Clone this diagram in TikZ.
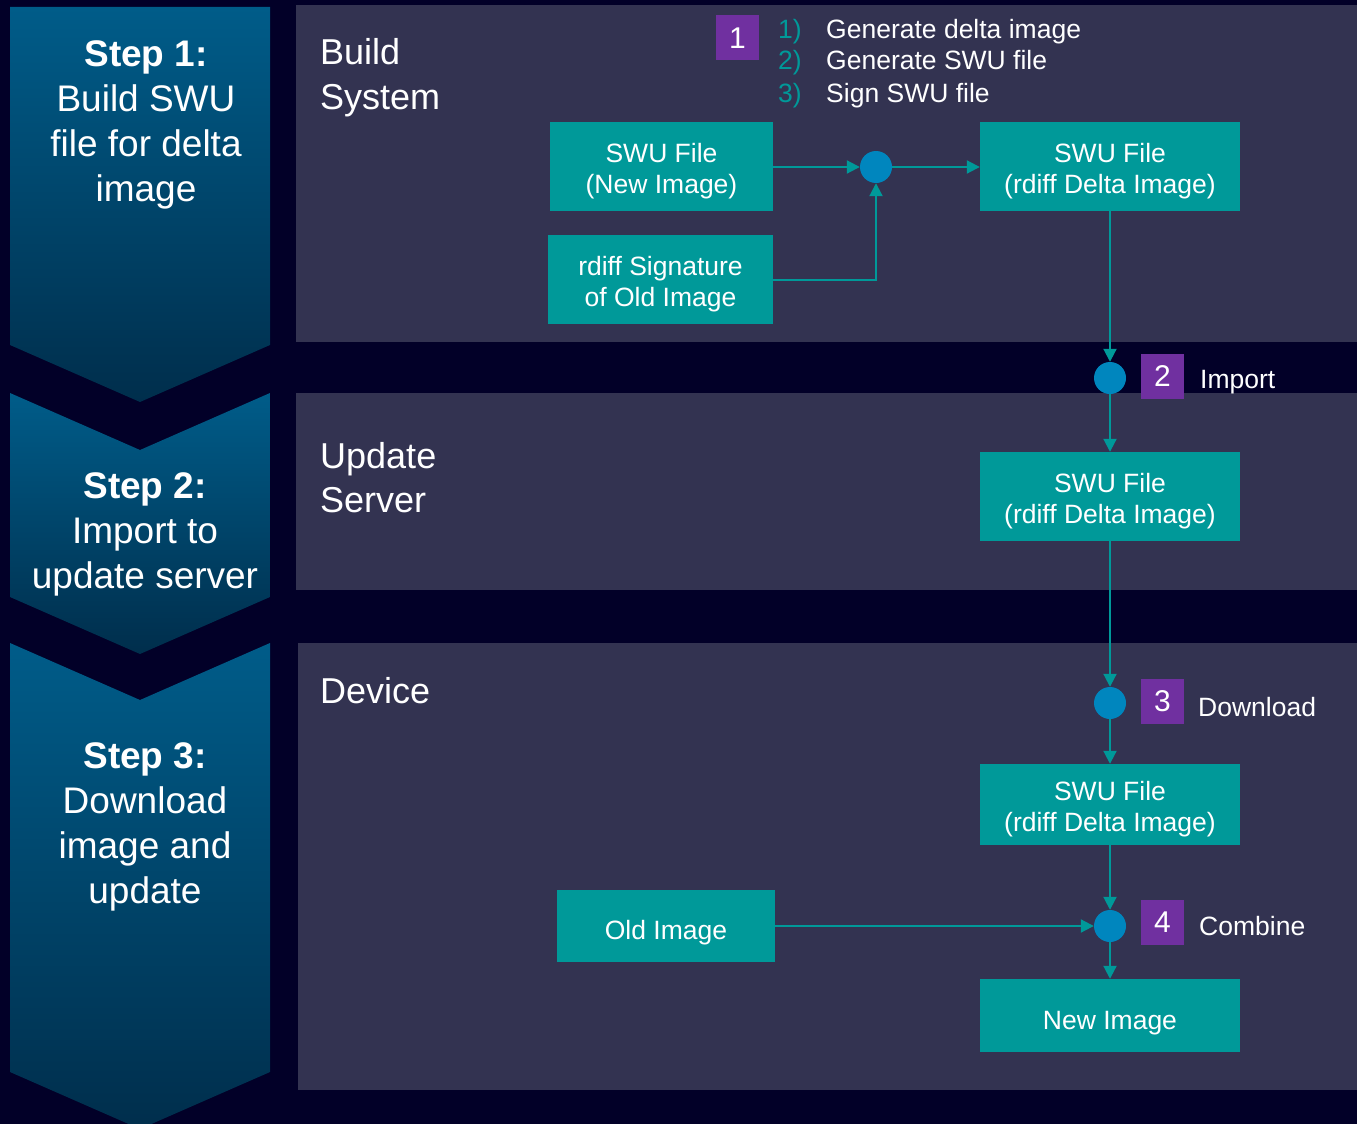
\documentclass[tikz,border=0pt]{standalone}
\usepackage{fontspec}
\setmainfont{Liberation Sans}
\usetikzlibrary{arrows.meta}
\definecolor{bgnavy}{RGB}{2,0,40}
\definecolor{panel}{RGB}{51,51,81}
\definecolor{tealc}{RGB}{0,153,153}
\definecolor{dotblue}{RGB}{0,134,190}
\definecolor{purp}{RGB}{112,48,160}
\definecolor{chevtop}{RGB}{0,92,137}
\definecolor{chevbot}{RGB}{0,46,76}
\newcommand{\bxt}[2]{\raisebox{#1}[0pt][0pt]{\begin{tabular}{@{}c@{}}#2\end{tabular}}}
\tikzset{
  filebox/.style={rectangle, fill=tealc, inner sep=0pt, text=white,
    font=\fontsize{26.5}{31}\selectfont},
  dot/.style={circle, fill=dotblue, inner sep=0pt, minimum size=32pt},
  numbox/.style={rectangle, fill=purp, inner sep=0pt, minimum width=43pt, minimum height=45pt,
    text=white, font=\fontsize{30}{30}\selectfont},
  flow/.style={draw=tealc, line width=2pt, -{Triangle[length=13pt,width=13pt]}},
  paneltitle/.style={anchor=base west, text=white, inner sep=0pt, font=\fontsize{36}{36}\selectfont},
  smalltext/.style={anchor=base west, text=white, inner sep=0pt, font=\fontsize{26.5}{26.5}\selectfont},
  steptext/.style={text=white, align=center, inner sep=0pt, font=\fontsize{37}{45}\selectfont},
  chevron/.style={top color=chevtop, bottom color=chevbot, draw=none}
}
\begin{document}
\begin{tikzpicture}[x=1pt,y=-1pt]
\useasboundingbox (0,0) rectangle (1357,1124);
\fill[bgnavy] (0,0) rectangle (1357,1124);
% panels
\fill[panel] (296,5) rectangle (1357,342);
\fill[panel] (296,393) rectangle (1357,590);
\fill[panel] (298,643) rectangle (1357,1090);
% chevrons
\shade[chevron] (10,7) -- (270,7) -- (270,345) -- (140,402) -- (10,345) -- cycle;
\shade[chevron] (10,393) -- (140,450) -- (270,393) -- (270,597) -- (140,654) -- (10,597) -- cycle;
\shade[chevron] (10,643) -- (140,700) -- (270,643) -- (270,1072) -- (140,1129) -- (10,1072) -- cycle;
\node[steptext] (s1) at (146,125) {\bfseries Step 1:\\Build SWU\\file for delta\\image};
\node[steptext] (s2) at (145,534) {\bfseries Step 2:\\Import to\\update server};
\node[steptext] (s3) at (145,827) {\bfseries Step 3:\\Download\\image and\\update};
% panel titles
\node[paneltitle] (t1) at (320,64) {Build};
\node[paneltitle] (t2) at (320,109) {System};
\node[paneltitle] (t3) at (320,468) {Update};
\node[paneltitle] (t4) at (320,512) {Server};
\node[paneltitle] (t5) at (320,703) {Device};
% step list
\node[numbox] (n1) at (737.5,38) {1};
\node[smalltext, text=tealc] (l1n) at (778,39) {1)};
\node[smalltext, text=tealc] (l2n) at (778,70) {2)};
\node[smalltext, text=tealc] (l3n) at (778,102) {3)};
\node[smalltext] (l1) at (826,39) {Generate delta image};
\node[smalltext] (l2) at (826,70) {Generate SWU file};
\node[smalltext] (l3) at (826,102) {Sign SWU file};
% boxes
\node[filebox, minimum width=223pt, minimum height=89pt] (A) at (661.5,166.5) {\bxt{-12pt}{SWU File\\(New Image)}};
\node[filebox, minimum width=260pt, minimum height=89pt] (B) at (1110,166.5) {\bxt{-12pt}{SWU File\\(rdiff Delta Image)}};
\node[filebox, minimum width=225pt, minimum height=89pt] (C) at (660.5,279.5) {\bxt{-12pt}{rdiff Signature\\of Old Image}};
\node[filebox, minimum width=260pt, minimum height=89pt] (D) at (1110,496.5) {\bxt{-12pt}{SWU File\\(rdiff Delta Image)}};
\node[filebox, minimum width=260pt, minimum height=81pt] (E) at (1110,804.5) {\bxt{-12pt}{SWU File\\(rdiff Delta Image)}};
\node[filebox, minimum width=218pt, minimum height=72pt] (F) at (666,926) {\bxt{-14pt}{Old Image}};
\node[filebox, minimum width=260pt, minimum height=73pt] (G) at (1110,1015.5) {\bxt{-14pt}{New Image}};
% dots
\node[dot] (c1) at (876,167) {};
\node[dot] (c2) at (1110,378) {};
\node[dot] (c3) at (1110,703) {};
\node[dot] (c4) at (1110,926) {};
% number boxes and labels
\node[numbox] (n2) at (1162.5,376.5) {2};
\node[numbox] (n3) at (1162.5,701) {3};
\node[numbox] (n4) at (1162.5,922.5) {4};
\node[smalltext] (imp) at (1200,388) {Import};
\node[smalltext] (dl) at (1198,716) {Download};
\node[smalltext] (cb) at (1199,935) {Combine};
% connectors
\draw[flow] (A.east |- c1) -- (c1.west);
\draw[flow] (c1.east) -- (B.west |- c1);
\draw[flow] (C.east) -| (c1.south);
\draw[flow] (B.south) -- (c2.north);
\draw[flow] (c2.south) -- (D.north);
\draw[flow] (D.south) -- (c3.north);
\draw[flow] (c3.south) -- (E.north);
\draw[flow] (E.south) -- (c4.north);
\draw[flow] (F.east |- c4) -- (c4.west);
\draw[flow] (c4.south) -- (G.north);
\end{tikzpicture}
\end{document}
